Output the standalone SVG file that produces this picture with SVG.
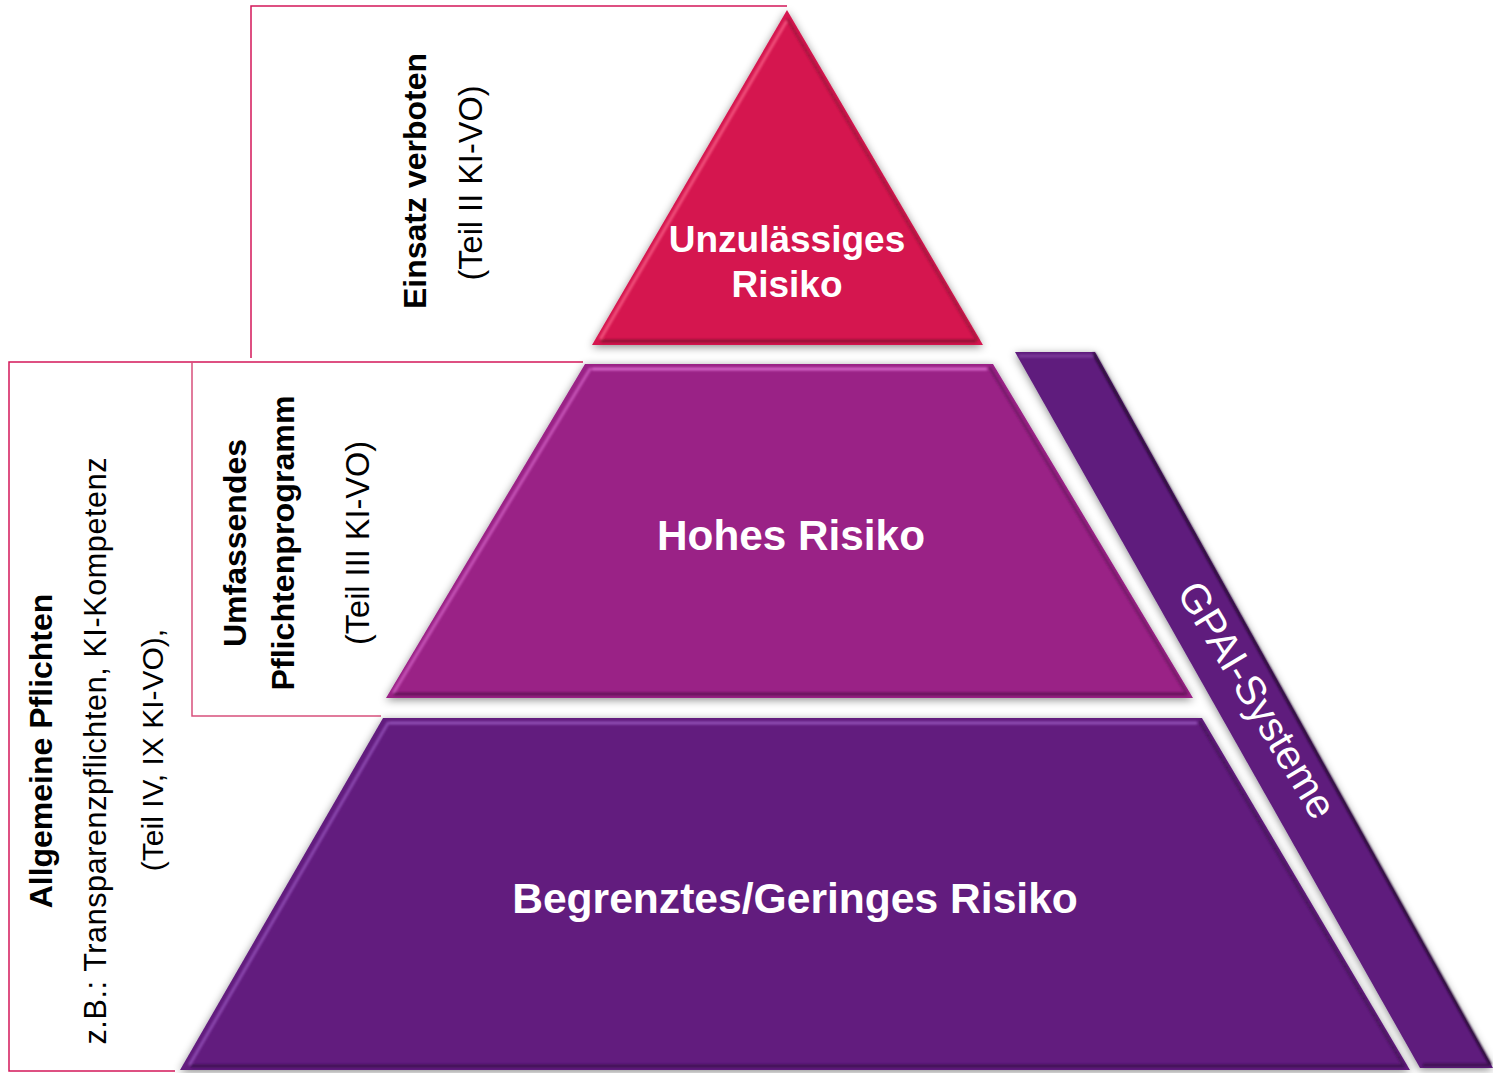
<svg xmlns="http://www.w3.org/2000/svg" width="1493" height="1073" viewBox="0 0 1493 1073">
<defs>
<style>
.lbl{font-family:"Liberation Sans",Arial,sans-serif;fill:#000}
.b{font-weight:bold}
.w{font-family:"Liberation Sans",Arial,sans-serif;fill:#fff;font-weight:bold}
.line{fill:none;stroke:#d3175a;stroke-width:1.5}
.line2{fill:none;stroke:#d8507c;stroke-width:1.5}
.hl{fill:none;stroke-width:3;stroke-linecap:round}
</style>
<filter id="sh" x="-10%" y="-10%" width="120%" height="120%">
<feGaussianBlur in="SourceAlpha" stdDeviation="4" result="b"/>
<feOffset in="b" dx="0" dy="2" result="o"/>
<feFlood flood-color="#000" flood-opacity="0.45"/>
<feComposite in2="o" operator="in" result="s"/>
<feMerge><feMergeNode in="s"/><feMergeNode in="SourceGraphic"/></feMerge>
</filter>
<filter id="soft"><feGaussianBlur stdDeviation="0.8"/></filter>
</defs>
<rect width="1493" height="1073" fill="#fff"/>

<g id="brackets">
<polyline class="line" points="787,6 251,6 251,358"/>
<polyline class="line" points="583,362 9,362 9,1071 175,1071"/>
<polyline class="line2" points="192,362 192,716 381,716"/>
</g>

<g id="gpai">
<polygon points="1015,352 1095,352 1493,1068 1420,1068" fill="#5f1c7d" filter="url(#sh)"/>
<g filter="url(#soft)">
<polyline class="hl" points="1094,354 1490,1064" stroke="#2a0838" stroke-width="4"/>
<polyline class="hl" points="1020,356 1092,356" stroke="#7b3a9a" stroke-width="2"/>
<polyline class="hl" points="1424,1065 1489,1065" stroke="#3c1050" stroke-width="3"/>
</g>
<text class="w" style="font-weight:normal" font-size="41" text-anchor="middle" transform="translate(1257,700) rotate(59)" dy="14">GPAI-Systeme</text>
</g>

<g id="bottom">
<polygon points="383,718 1202,718 1410,1070 180,1070" fill="#621e7e" filter="url(#sh)"/>
<g filter="url(#soft)">
<polyline class="hl" points="390,723 1196,723" stroke="#9150b5"/>
<polyline class="hl" points="388,723 190,1064" stroke="#8a47ad"/>
<polyline class="hl" points="192,1066 1404,1066" stroke="#3e0f52" stroke-width="4"/>
<polyline class="hl" points="1200,722 1404,1066" stroke="#4a155f" stroke-width="3"/>
</g>
<text class="w" font-size="42.6" x="795" y="913" text-anchor="middle">Begrenztes/Geringes Risiko</text>
</g>

<g id="high">
<polygon points="585,364 993,364 1193,698 386,698" fill="#9a2186" filter="url(#sh)"/>
<g filter="url(#soft)">
<polyline class="hl" points="593,369 986,369" stroke="#d465c8"/>
<polyline class="hl" points="590,369 394,692" stroke="#c552b6"/>
<polyline class="hl" points="395,694 1186,694" stroke="#641358" stroke-width="4"/>
<polyline class="hl" points="990,368 1187,694" stroke="#761a69" stroke-width="3"/>
</g>
<text class="w" font-size="42.3" x="791" y="550" text-anchor="middle">Hohes Risiko</text>
</g>

<g id="top">
<polygon points="787,10 983,345 592,345" fill="#d51850" filter="url(#sh)"/>
<g filter="url(#soft)">
<polyline class="hl" points="786,22 601,338" stroke="#f0507a"/>
<polyline class="hl" points="602,341 975,341" stroke="#8e1335" stroke-width="4"/>
<polyline class="hl" points="788,20 977,340" stroke="#a8153f" stroke-width="3"/>
</g>
<text class="w" font-size="37" x="787" y="252" text-anchor="middle">Unzulässiges</text>
<text class="w" font-size="37" x="787" y="297" text-anchor="middle">Risiko</text>
</g>

<g id="label-verboten">
<text class="lbl b" font-size="32" text-anchor="middle" transform="translate(426,181) rotate(-90)">Einsatz verboten</text>
<text class="lbl" font-size="32.5" text-anchor="middle" transform="translate(482,183) rotate(-90)">(Teil II KI-VO)</text>
</g>

<g id="label-hoch">
<text class="lbl b" font-size="32" text-anchor="middle" transform="translate(246,543) rotate(-90)">Umfassendes</text>
<text class="lbl b" font-size="32.2" text-anchor="middle" transform="translate(294,543) rotate(-90)">Pflichtenprogramm</text>
<text class="lbl" font-size="32.5" text-anchor="middle" transform="translate(369,543) rotate(-90)">(Teil III KI-VO)</text>
</g>

<g id="label-allgemein">
<text class="lbl b" font-size="32" text-anchor="middle" transform="translate(52,751) rotate(-90)">Allgemeine Pflichten</text>
<text class="lbl" font-size="30.5" text-anchor="middle" textLength="587" lengthAdjust="spacing" transform="translate(106,751) rotate(-90)">z.B.: Transparenzpflichten, KI-Kompetenz</text>
<text class="lbl" font-size="30" text-anchor="middle" transform="translate(163,750) rotate(-90)">(Teil IV, IX KI-VO),</text>
</g>
</svg>
